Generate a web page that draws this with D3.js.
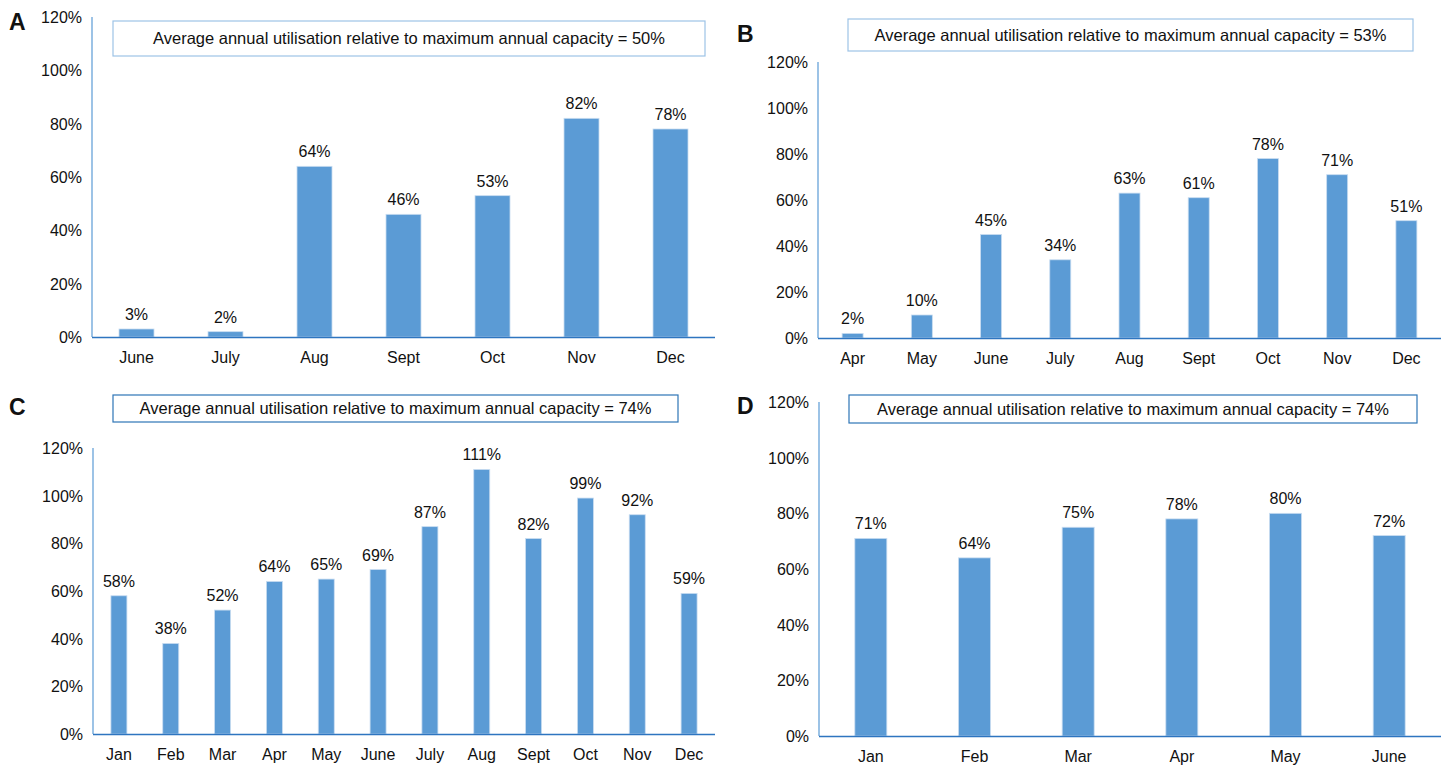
<!DOCTYPE html>
<html>
<head>
<meta charset="utf-8">
<script src="https://cdn.jsdelivr.net/npm/d3@7"></script>
<style>
  body { margin: 0; background: #fff; }
  text { font-family: "Liberation Sans", Arial, sans-serif; fill: #111; }
</style>
</head>
<body>
<svg id="chart" width="1450" height="765"></svg>
<script>
// data
const monthsA = ["June", "July", "Aug", "Sept", "Oct", "Nov", "Dec"];
const valuesA = [3, 2, 64, 46, 53, 82, 78];
const monthsB = ["Apr", "May", "June", "July", "Aug", "Sept", "Oct", "Nov", "Dec"];
const valuesB = [2, 10, 45, 34, 63, 61, 78, 71, 51];
const monthsC = ["Jan", "Feb", "Mar", "Apr", "May", "June", "July", "Aug", "Sept", "Oct", "Nov", "Dec"];
const valuesC = [58, 38, 52, 64, 65, 69, 87, 111, 82, 99, 92, 59];
const monthsD = ["Jan", "Feb", "Mar", "Apr", "May", "June"];
const valuesD = [71, 64, 75, 78, 80, 72];
const yTicks = [0, 20, 40, 60, 80, 100, 120];

const svg = d3.select("#chart");

// panel layout
const panels = [
  {letter: "A", months: monthsA, values: valuesA, avg: "50%",
   x0: 92, x1: 715, yTop: 17, yBase: 337, barW: 35,
   box: [113, 21, 592, 35], boxStroke: "#9dc3e6", lx: 9, ly: 30},
  {letter: "B", months: monthsB, values: valuesB, avg: "53%",
   x0: 818, x1: 1441, yTop: 62, yBase: 338, barW: 21,
   box: [848, 19, 565, 32], boxStroke: "#9dc3e6", lx: 737, ly: 42},
  {letter: "C", months: monthsC, values: valuesC, avg: "74%",
   x0: 93, x1: 715, yTop: 448, yBase: 734, barW: 16,
   box: [113, 395, 565, 27], boxStroke: "#2e75b6", lx: 9, ly: 415},
  {letter: "D", months: monthsD, values: valuesD, avg: "74%",
   x0: 819, x1: 1441, yTop: 402, yBase: 736, barW: 32,
   box: [849, 395, 568, 28], boxStroke: "#2e75b6", lx: 737, ly: 414}
];

panels.forEach(drawPanel);

function drawPanel(p) {
  const g = svg.append("g");

  const x = d3.scaleBand()
    .domain(p.months)
    .range([p.x0, p.x1]);

  const y = d3.scaleLinear()
    .domain([0, 120])
    .range([p.yBase, p.yTop]);

  // y tick labels
  g.selectAll("text.ytick")
    .data(yTicks)
    .enter()
    .append("text")
      .attr("class", "ytick")
      .attr("x", p.x0 - 10)
      .attr("y", d => y(d) + 6)
      .attr("text-anchor", "end")
      .attr("font-size", 16)
      .text(d => d + "%");

  // bars
  g.selectAll("rect.bar")
    .data(p.values)
    .enter()
    .append("rect")
      .attr("class", "bar")
      .attr("x", (d, i) => x(p.months[i]) + x.bandwidth() / 2 - p.barW / 2)
      .attr("y", d => y(d))
      .attr("width", p.barW)
      .attr("height", d => p.yBase - y(d))
      .attr("fill", "#5b9bd5")
      .attr("stroke", "#c9ddf1")
      .attr("stroke-width", 0.8);

  // value labels
  g.selectAll("text.val")
    .data(p.values)
    .enter()
    .append("text")
      .attr("class", "val")
      .attr("x", (d, i) => x(p.months[i]) + x.bandwidth() / 2)
      .attr("y", d => y(d) - 9)
      .attr("text-anchor", "middle")
      .attr("font-size", 16)
      .text(d => d + "%");

  // axes lines
  g.append("line")
    .attr("x1", p.x0).attr("x2", p.x0)
    .attr("y1", p.yTop).attr("y2", p.yBase)
    .attr("stroke", "#5b9bd5")
    .attr("stroke-width", 1.2);

  g.append("line")
    .attr("x1", p.x0).attr("x2", p.x1)
    .attr("y1", p.yBase + 0.5).attr("y2", p.yBase + 0.5)
    .attr("stroke", "#2e75c0")
    .attr("stroke-width", 1.4);

  // category labels
  g.selectAll("text.cat")
    .data(p.months)
    .enter()
    .append("text")
      .attr("class", "cat")
      .attr("x", d => x(d) + x.bandwidth() / 2)
      .attr("y", p.yBase + 26)
      .attr("text-anchor", "middle")
      .attr("font-size", 16)
      .text(d => d);

  // annotation box
  const [bx, by, bw, bh] = p.box;
  g.append("rect")
    .attr("x", bx).attr("y", by)
    .attr("width", bw).attr("height", bh)
    .attr("fill", "#fff")
    .attr("stroke", p.boxStroke)
    .attr("stroke-width", 1.2);

  g.append("text")
    .attr("x", bx + bw / 2)
    .attr("y", by + bh / 2 + 5.5)
    .attr("text-anchor", "middle")
    .attr("font-size", 16.5)
    .text("Average annual utilisation relative to maximum annual capacity = " + p.avg);

  // panel letter
  g.append("text")
    .attr("x", p.lx)
    .attr("y", p.ly)
    .attr("font-size", 23)
    .attr("font-weight", "bold")
    .text(p.letter);
}
</script>
</body>
</html>
